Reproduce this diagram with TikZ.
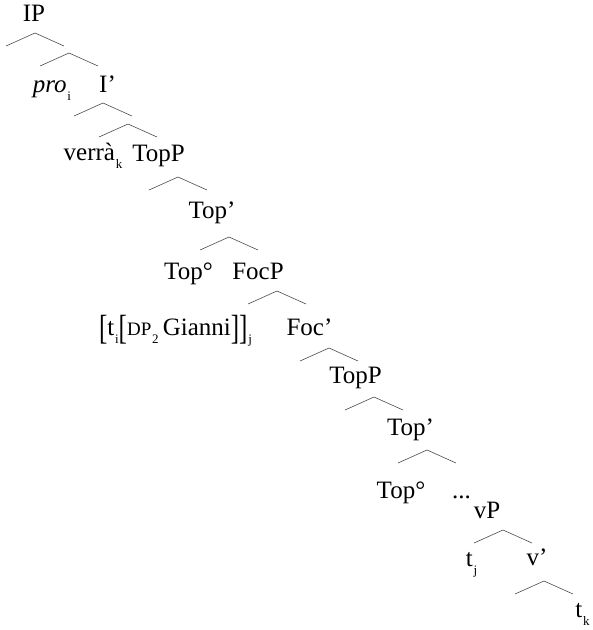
\documentclass[tikz,border=0pt]{standalone}
\usepackage{fontspec}
\setmainfont{Liberation Serif}
\usepackage{graphicx}
% small lowered index letters
\newcommand\lsub[1]{\kern0.8pt\raisebox{-0.7ex}{\fontsize{13}{13}\selectfont #1}}
% tall bracket
\newcommand\tallbr[1]{\raisebox{-0.35ex}{\scalebox{1}[1.4]{#1}}}
\begin{document}
\begin{tikzpicture}[x=1pt,y=-1pt,
  lbl/.style={anchor=base, inner sep=0pt, font=\fontsize{25}{25}\selectfont},
  branch/.style={draw=black!70, line width=0.6pt},
  caret/.pic={\draw[branch] (-29,13) -- (0,0) -- (29,13);}]
\useasboundingbox[fill=white] (0,0) rectangle (593,630);

% labels
\node[lbl] (ip)      at (34,21)    {IP};
\node[lbl] (pro)     at (52,92)    {\textit{pro}\lsub{i}};
\node[lbl] (ibar)    at (107.5,92) {I’};
\node[lbl] (verra)   at (93,160)   {verrà\lsub{k}};
\node[lbl] (topp1)   at (158.5,161){TopP};
\node[lbl] (topbar1) at (212,218)  {Top’};
\node[lbl] (top1)    at (188.5,279){Top°};
\node[lbl] (focp)    at (258,279)  {FocP};
\node[lbl] (dp)      at (175.5,335){\tallbr{[}t\lsub{i}\tallbr{[}{\fontsize{19}{19}\selectfont DP}\lsub{2}\,Gianni\tallbr{]}\tallbr{]}\lsub{j}};
\node[lbl] (focbar)  at (309.5,335){Foc’};
\node[lbl] (topp2)   at (355.5,383){TopP};
\node[lbl] (topbar2) at (410.5,435){Top’};
\node[lbl] (top2)    at (401,498)  {Top°};
\node[lbl] (dots)    at (461.5,498){...};
\node[lbl] (vp)      at (487,518)  {vP};
\node[lbl] (tj)      at (471.5,566){t\lsub{j}};
\node[lbl] (vbar)    at (537,565)  {v’};
\node[lbl] (tk)      at (582.5,617){t\lsub{k}};

% branch carets (apex points)
\coordinate (c1)  at (35,33);
\coordinate (c2)  at (69,53);
\coordinate (c3)  at (103,103);
\coordinate (c4)  at (128,124);
\coordinate (c5)  at (178,177);
\coordinate (c6)  at (229,237);
\coordinate (c7)  at (277,291);
\coordinate (c8)  at (329,348);
\coordinate (c9)  at (374,397);
\coordinate (c10) at (427,450);
\coordinate (c11) at (503,530);
\coordinate (c12) at (544,581);
\foreach \c in {c1,c2,c3,c4,c5,c6,c7,c8,c9,c10,c11,c12}
  \pic at (\c) {caret};
\end{tikzpicture}
\end{document}
